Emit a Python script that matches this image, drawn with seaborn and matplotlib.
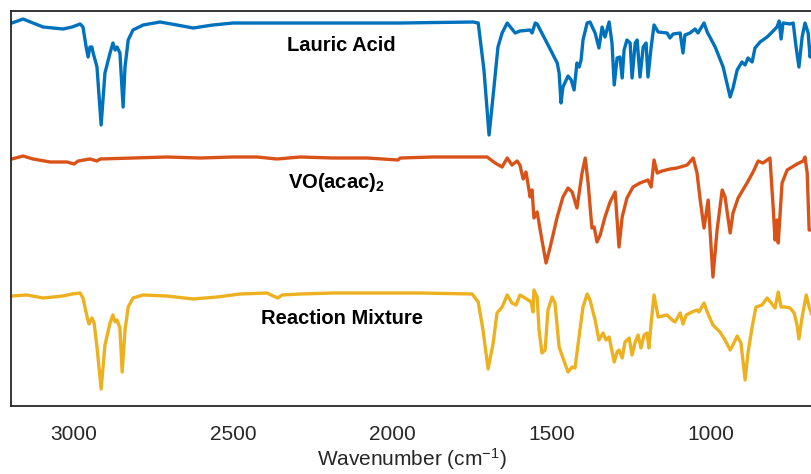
import matplotlib
matplotlib.use("Agg")
import matplotlib.pyplot as plt
import seaborn as sns
import pandas as pd

# ---- data (wavenumber in cm^-1, intensity in arbitrary offset units) ----
lauric_wn = [3195, 3160, 3129, 3097, 3035, 3006, 2981, 2972, 2962, 2956, 2950, 2944, 2940, 2928,
             2915, 2903, 2887, 2878, 2871, 2865, 2856, 2846, 2840, 2830, 2815, 2783, 2730, 2677,
             2626, 2564, 2501, 2394, 2187, 1976, 1747, 1731, 1713, 1697, 1684, 1669, 1656, 1640,
             1615, 1600, 1568, 1562, 1552, 1546, 1515, 1483, 1477, 1471, 1465, 1449, 1439, 1430,
             1421, 1414, 1408, 1402, 1389, 1380, 1364, 1352, 1342, 1333, 1320, 1311, 1304, 1295,
             1286, 1279, 1273, 1264, 1254, 1248, 1238, 1232, 1223, 1213, 1204, 1198, 1188, 1179,
             1166, 1138, 1129, 1119, 1097, 1088, 1082, 1066, 1050, 1041, 1022, 1012, 987, 962,
             940, 931, 918, 903, 893, 884, 871, 862, 846, 824, 808, 793, 786, 780, 774, 752,
             742, 733, 724, 714, 705, 695, 689, 683]
lauric_val = [383, 387, 383, 379, 377, 379, 382, 379, 359, 349, 359, 359, 353, 339,
              281, 333, 353, 363, 356, 359, 353, 299, 339, 366, 376, 381, 384, 381,
              378, 381, 383, 383, 383, 383, 384, 383, 336, 271, 311, 359, 373, 383,
              373, 375, 376, 373, 383, 382, 363, 343, 333, 303, 319, 330, 326, 316,
              343, 339, 346, 366, 383, 384, 373, 358, 379, 369, 384, 363, 321, 348,
              349, 328, 356, 366, 363, 328, 363, 366, 329, 359, 363, 329, 359, 381,
              374, 373, 368, 372, 373, 353, 371, 373, 377, 373, 383, 374, 359, 339,
              309, 318, 336, 344, 341, 348, 344, 358, 364, 369, 374, 379, 385, 367, 383, 382,
              383, 359, 339, 369, 383, 373, 349, 359]

vo_wn = [3195, 3160, 3129, 3075, 3022, 3000, 2987, 2950, 2928, 2918, 2815, 2708, 2604, 2501,
         2425, 2363, 2290, 2187, 2080, 1983, 1976, 1873, 1703, 1678, 1656, 1640, 1625, 1609,
         1600, 1590, 1581, 1568, 1562, 1556, 1546, 1531, 1518, 1505, 1483, 1465, 1449, 1436,
         1421, 1405, 1395, 1386, 1374, 1367, 1358, 1348, 1333, 1317, 1301, 1289, 1279, 1264,
         1245, 1223, 1198, 1188, 1179, 1169, 1154, 1129, 1107, 1075, 1056, 1044, 1034, 1022,
         1009, 994, 981, 965, 956, 940, 931, 915, 887, 868, 852, 837, 815, 805, 799, 793,
         789, 777, 761, 730, 711, 705, 698, 692, 683]
vo_val = [247, 250, 247, 244, 244, 242, 245, 247, 245, 247, 248, 249, 248, 249,
          249, 247, 249, 248, 248, 246, 248, 249, 249, 243, 239, 248, 241, 245,
          241, 227, 234, 209, 216, 188, 194, 166, 143, 159, 189, 209, 218, 214,
          198, 233, 248, 223, 178, 179, 164, 171, 189, 204, 214, 159, 189, 208,
          219, 223, 226, 219, 246, 233, 235, 237, 238, 241, 248, 233, 206, 178,
          206, 129, 176, 216, 209, 173, 193, 208, 223, 234, 245, 243, 248, 199, 166, 186,
          163, 223, 236, 242, 245, 249, 233, 176, 176]

mix_wn = [3195, 3148, 3097, 3035, 3006, 2981, 2972, 2959, 2953, 2944, 2937, 2928, 2915, 2903,
          2887, 2878, 2871, 2865, 2856, 2849, 2840, 2830, 2815, 2783, 2708, 2626, 2551, 2479,
          2394, 2375, 2360, 2347, 2290, 2187, 2080, 1914, 1750, 1731, 1716, 1700, 1684, 1672,
          1656, 1640, 1625, 1612, 1600, 1584, 1565, 1559, 1556, 1546, 1540, 1531, 1521, 1512,
          1499, 1490, 1477, 1465, 1449, 1436, 1427, 1417, 1402, 1389, 1380, 1364, 1352, 1339,
          1330, 1320, 1304, 1295, 1289, 1279, 1270, 1257, 1248, 1238, 1229, 1220, 1210, 1201,
          1195, 1188, 1179, 1166, 1138, 1122, 1113, 1097, 1088, 1078, 1060, 1044, 1038, 1022,
          1012, 994, 972, 956, 940, 931, 918, 906, 893, 884, 871, 859, 840, 824, 811, 799,
          789, 780, 767, 752, 739, 730, 724, 714, 701, 692, 683]
mix_val = [110, 111, 108, 110, 112, 113, 108, 89, 82, 88, 83, 59, 17, 61,
           83, 91, 84, 86, 78, 34, 76, 99, 108, 111, 110, 107, 109, 112,
           113, 110, 108, 111, 112, 113, 113, 113, 112, 104, 76, 37, 63, 93,
           99, 111, 103, 101, 111, 108, 104, 94, 116, 109, 76, 53, 56, 96,
           109, 103, 59, 48, 34, 39, 38, 63, 99, 112, 106, 86, 66, 73,
           66, 69, 44, 54, 56, 48, 64, 68, 51, 64, 71, 58, 71, 73,
           58, 83, 111, 89, 91, 86, 84, 93, 82, 91, 94, 96, 94, 103,
           94, 81, 74, 66, 56, 61, 70, 63, 26, 53, 79, 99, 101, 108, 103, 98,
           114, 99, 99, 98, 93, 81, 67, 89, 111, 99, 91]

names = ["Lauric Acid", r"VO(acac)$_{\mathbf{2}}$", "Reaction Mixture"]
label_wn = [2160, 2175, 2160]
label_val = [360, 223, 88]
colors = ["#0072BD", "#D95319", "#EDB120"]
xticks = [3000, 2500, 2000, 1500, 1000]

sns.set_style("white")
plt.rcParams["font.family"] = ["Liberation Sans", "DejaVu Sans"]
plt.rcParams["mathtext.fontset"] = "custom"
plt.rcParams["mathtext.rm"] = "Liberation Sans"
plt.rcParams["mathtext.it"] = "Liberation Sans"
plt.rcParams["mathtext.bf"] = "Liberation Sans:bold"
plt.rcParams["mathtext.default"] = "regular"

fig = plt.figure(figsize=(8.12, 4.74), dpi=100)
ax = fig.add_axes([11 / 812, 68 / 474, 801 / 812, 395 / 474])

series = [(lauric_wn, lauric_val), (vo_wn, vo_val), (mix_wn, mix_val)]
for (wn, val), c in zip(series, colors):
    df = pd.DataFrame({"wn": wn, "val": val})
    sns.lineplot(data=df, x="wn", y="val", color=c, lw=2.4, ax=ax,
                 estimator=None, sort=False)

for name, xw, yv in zip(names, label_wn, label_val):
    ax.text(xw, yv, name, ha="center", va="center", fontsize=14.5,
            fontweight="bold", color="black")

ax.set_xlim(3198, 683)
ax.set_ylim(0, 395)
ax.set_xticks(xticks)
ax.set_yticks([])
ax.set_ylabel("")
ax.set_xlabel("Wavenumber (cm$^{-1}$)", fontsize=15, color="#262626", labelpad=1)
ax.tick_params(axis="x", direction="out", length=6, width=1.2, colors="#262626",
               labelsize=15, pad=8, top=False)
for s in ["left", "bottom", "top"]:
    ax.spines[s].set_visible(True)
    ax.spines[s].set_color("#262626")
    ax.spines[s].set_linewidth(1.3)
ax.spines["right"].set_visible(False)

fig.savefig("out.png", dpi=100)
